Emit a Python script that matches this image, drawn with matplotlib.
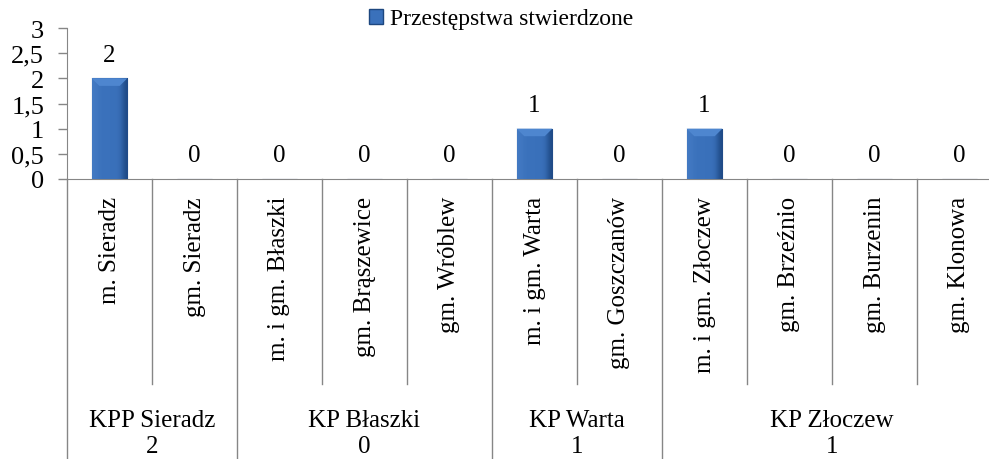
import matplotlib.pyplot as plt
import numpy as np
from matplotlib.lines import Line2D
from matplotlib.patches import Patch, Polygon
from matplotlib.colors import LinearSegmentedColormap
from matplotlib.ticker import FuncFormatter, MultipleLocator
from matplotlib.transforms import blended_transform_factory

# dane
gminy = ["m. Sieradz", "gm. Sieradz", "m. i gm. Błaszki", "gm. Brąszewice",
         "gm. Wróblew", "m. i gm. Warta", "gm. Goszczanów", "m. i gm. Złoczew",
         "gm. Brzeźnio", "gm. Burzenin", "gm. Klonowa"]
wartosci = [2, 0, 0, 0, 0, 1, 0, 1, 0, 0, 0]
jednostki = ["KPP Sieradz", "KP Błaszki", "KP Warta", "KP Złoczew"]
sumy_jednostek = [2, 0, 1, 1]
liczba_gmin = [2, 3, 2, 4]
seria = "Przestępstwa stwierdzone"

plt.rcParams['font.family'] = 'Liberation Serif'
plt.rcParams['font.size'] = 18

W, H = 989, 460
fig = plt.figure(figsize=(W / 100, H / 100), dpi=100)
# os wykresu wychodzi poza prawa krawedz obrazka, jak w oryginale
ax = fig.add_axes([67 / W, 280 / H, 935 / W, 151 / H])

x = np.arange(len(gminy))
bars = ax.bar(x, wartosci, width=0.42, color='#3a71bb', edgecolor='#1d477f',
              linewidth=0.8, zorder=2)

# gradient i faza na gorze slupkow
grad = np.array([[0.75, 0.55, 0.5, 0.5, 0.5, 0.45, 0.0]])
cmap = LinearSegmentedColormap.from_list('bevel', ['#1f4a86', '#3a71bb', '#4c83cb'])
for b in bars:
    h = b.get_height()
    if h <= 0:
        continue
    x0, x1 = b.get_x(), b.get_x() + b.get_width()
    im = ax.imshow(grad, cmap=cmap, aspect='auto', zorder=3, vmin=0, vmax=1,
                   extent=(x0, x1, 0, h), interpolation='bicubic')
    im.set_clip_path(b)
    ax.add_patch(Polygon([(x0, h), (x1, h), (x1 - 0.09, h - 0.15), (x0 + 0.09, h - 0.15)],
                         closed=True, facecolor='#4e86cf', edgecolor='none', zorder=4))

for xi, v in zip(x, wartosci):
    ax.annotate(str(v), (xi, v), xytext=(0, 9), textcoords='offset points',
                ha='center', va='bottom', fontsize=18)

ax.set_xlim(-0.5, len(gminy) - 0.5)
ax.set_ylim(0, 3)
ax.yaxis.set_major_locator(MultipleLocator(0.5))
ax.yaxis.set_major_formatter(FuncFormatter(lambda v, p: f"{v:g}".replace('.', ',')))
ax.set_xticks([])
ax.tick_params(axis='y', direction='out', length=6.5, width=1, color='#868686',
               pad=10, labelsize=19)
for s in ['top', 'right']:
    ax.spines[s].set_visible(False)
for s in ['left', 'bottom']:
    ax.spines[s].set_color('#868686')

# etykiety osi x w dwoch poziomach
tr = blended_transform_factory(ax.transData, ax.transAxes)
px = 1 / 151
for xi, g in zip(x, gminy):
    ax.text(xi, -17 * px, g, rotation=90, ha='center', va='top', transform=tr,
            fontsize=18)

granice = np.cumsum([0] + liczba_gmin)
for k in range(1, len(gminy) + 1):
    dol = -280 * px if k in granice else -205 * px
    ax.add_line(Line2D([k - 0.5, k - 0.5], [0, dol], transform=tr,
                       color='#868686', lw=1, clip_on=False))
ax.add_line(Line2D([-0.5, -0.5], [0, -280 * px], transform=tr,
                   color='#868686', lw=1, clip_on=False))

for j, (nazwa, suma) in enumerate(zip(jednostki, sumy_jednostek)):
    srodek = (granice[j] + granice[j + 1] - 1) / 2
    ax.text(srodek, -254 * px, f"{nazwa}\n{suma}", ha='center', va='center',
            transform=tr, linespacing=1.2, fontsize=18)

fig.legend(handles=[Patch(facecolor='#3a71bb', edgecolor='#1d477f', label=seria)],
           loc='center', bbox_to_anchor=(501 / W, 1 - 20 / H), frameon=False,
           handlelength=0.6, handleheight=0.6, handletextpad=0.3, fontsize=17)

fig.savefig('out.png', dpi=100)
